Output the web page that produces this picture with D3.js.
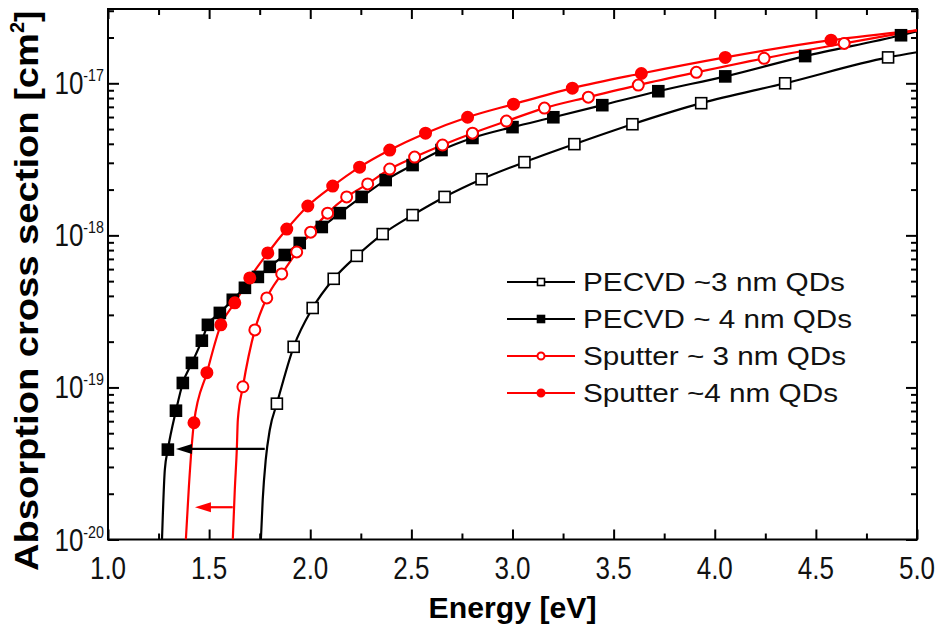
<!DOCTYPE html>
<html><head><meta charset="utf-8">
<script src="https://cdn.jsdelivr.net/npm/d3@7"></script>
<style>body{margin:0;background:#fff}svg{display:block}</style>
</head><body>
<svg id="chart" width="938" height="625"></svg>
<script>
// ---------- data ----------
const seriesNames = ["PECVD ~3 nm QDs", "PECVD ~ 4 nm QDs", "Sputter ~ 3 nm QDs", "Sputter ~4 nm QDs"];
const seriesColors = ["#000000", "#000000", "#ff0000", "#ff0000"];

// PECVD ~3 nm (open squares)
const pecvd3E = [1.835,1.918,2.012,2.116,2.230,2.358,2.506,2.664,2.847,3.059,3.306,3.593,3.933,4.348,4.857];
const pecvd3S = [7.82e-20,1.85e-19,3.33e-19,5.18e-19,7.33e-19,1.02e-18,1.36e-18,1.79e-18,2.34e-18,3.03e-18,3.98e-18,5.38e-18,7.40e-18,1.00e-17,1.48e-17];
const pecvd3LineE = [1.756,1.765,1.780,1.800,5.0];
const pecvd3LineS = [1.0e-20,1.83e-20,3.35e-20,5.27e-20,1.60e-17];

// PECVD ~4 nm (filled squares)
const pecvd4E = [1.296,1.336,1.370,1.415,1.464,1.494,1.553,1.617,1.677,1.741,1.800,1.874,1.948,2.057,2.146,2.254,2.373,2.506,2.649,2.802,3.000,3.202,3.444,3.721,4.052,4.447,4.921];
const pecvd4S = [3.90e-20,7.03e-20,1.07e-19,1.45e-19,2.03e-19,2.58e-19,3.09e-19,3.77e-19,4.52e-19,5.33e-19,6.21e-19,7.43e-19,8.91e-19,1.135e-18,1.40e-18,1.79e-18,2.31e-18,2.90e-18,3.64e-18,4.37e-18,5.15e-18,5.98e-18,7.18e-18,8.87e-18,1.11e-17,1.51e-17,2.07e-17];
const pecvd4LineE = [1.267,1.281,5.0];
const pecvd4LineS = [1.0e-20,2.88e-20,2.20e-17];

// Sputter ~3 nm (open circles)
const sput3E = [1.667,1.726,1.785,1.859,1.933,2.002,2.086,2.180,2.284,2.393,2.516,2.654,2.802,2.970,3.158,3.375,3.622,3.909,4.244,4.640];
const sput3S = [1.01e-19,2.39e-19,3.88e-19,5.58e-19,7.78e-19,1.05e-18,1.40e-18,1.79e-18,2.18e-18,2.73e-18,3.27e-18,3.93e-18,4.70e-18,5.64e-18,6.87e-18,8.11e-18,9.73e-18,1.18e-17,1.46e-17,1.83e-17];
const sput3LineE = [1.617,1.627,1.637,1.642,5.0];
const sput3LineS = [1.0e-20,2.13e-20,3.96e-20,6.14e-20,2.23e-17];

// Sputter ~4 nm (filled circles)
const sput4E = [1.425,1.489,1.558,1.627,1.701,1.790,1.884,1.988,2.111,2.244,2.393,2.570,2.778,3.005,3.296,3.637,4.052,4.575];
const sput4S = [5.86e-20,1.25e-19,2.58e-19,3.60e-19,5.25e-19,7.66e-19,1.10e-18,1.56e-18,2.11e-18,2.81e-18,3.64e-18,4.70e-18,5.98e-18,7.29e-18,9.29e-18,1.16e-17,1.48e-17,1.92e-17];
const sput4LineE = [1.385,1.400,5.0];
const sput4LineS = [1.0e-20,2.23e-20,2.23e-17];

// arrows (shift of absorption onset): [fromE, toE, sigma]
const arrowBlack = [1.775, 1.336, 3.94e-20];
const arrowRed = [1.617, 1.430, 1.63e-20];

// axes
const xDomain = [1.0, 5.0];
const yDomain = [1e-20, 3.08e-17];
const xTickValues = [1.0,1.5,2.0,2.5,3.0,3.5,4.0,4.5,5.0];
const xTickLabels = ["1.0","1.5","2.0","2.5","3.0","3.5","4.0","4.5","5.0"];
const xMinorValues = [1.25,1.75,2.25,2.75,3.25,3.75,4.25,4.75];
const yTickValues = [1e-20,1e-19,1e-18,1e-17];
const yTickExponents = ["-20","-19","-18","-17"];
const xTitle = "Energy [eV]";
const yTitle = "Absorption cross section [cm";
const yTitleSup = "2";

// ---------- drawing ----------
const svg = d3.select("#chart");
const M = {left:108, right:917, top:9, bottom:539.5};
const x = d3.scaleLinear().domain(xDomain).range([M.left, M.right]);
const y = d3.scaleLog().domain(yDomain).range([M.bottom, M.top]);

const yMinor = [];
for (let e = -20; e <= -17; e++) for (let k = 2; k <= 9; k++) { const v = k * Math.pow(10, e); if (v < yDomain[1]) yMinor.push(v); }

svg.append("defs").append("clipPath").attr("id","clip").append("rect")
  .attr("x",M.left).attr("y",M.top).attr("width",M.right-M.left).attr("height",M.bottom-M.top);

const axisG = svg.append("g").attr("class","axes");
function addAxis(axis, tr) {
  const g = axisG.append("g").attr("transform", tr).call(axis);
  g.select(".domain").remove();
  g.selectAll("line").attr("stroke","#000").attr("stroke-width",2);
  return g;
}
addAxis(d3.axisBottom(x).tickValues(xTickValues).tickSize(-10).tickFormat(""), `translate(0,${M.bottom})`);
addAxis(d3.axisBottom(x).tickValues(xMinorValues).tickSize(-6).tickFormat(""), `translate(0,${M.bottom})`);
addAxis(d3.axisTop(x).tickValues(xTickValues).tickSize(-10).tickFormat(""), `translate(0,${M.top})`);
addAxis(d3.axisTop(x).tickValues(xMinorValues).tickSize(-6).tickFormat(""), `translate(0,${M.top})`);
addAxis(d3.axisLeft(y).tickValues(yTickValues).tickSize(-11).tickFormat(""), `translate(${M.left},0)`);
addAxis(d3.axisLeft(y).tickValues(yMinor).tickSize(-6).tickFormat(""), `translate(${M.left},0)`);
addAxis(d3.axisRight(y).tickValues(yTickValues).tickSize(-11).tickFormat(""), `translate(${M.right},0)`);
addAxis(d3.axisRight(y).tickValues(yMinor).tickSize(-6).tickFormat(""), `translate(${M.right},0)`);

// frame
svg.append("rect").attr("x",M.left).attr("y",M.top).attr("width",M.right-M.left).attr("height",M.bottom-M.top)
  .attr("fill","none").attr("stroke","#000").attr("stroke-width",2);

const sans = "'Liberation Sans',Arial,sans-serif";
// x tick labels (condensed look)
svg.append("g").selectAll("text").data(xTickValues).join("text")
  .attr("transform", d => `translate(${x(d)},${M.bottom + 39}) scale(0.84,1)`)
  .attr("text-anchor","middle").attr("font-family", sans).attr("font-size",31).attr("fill","#111")
  .text((d,i) => xTickLabels[i]);
// y tick labels
const yl = svg.append("g").selectAll("text").data(yTickValues).join("text")
  .attr("transform", d => `translate(${M.left - 4},${y(d) + 11}) scale(0.84,1)`)
  .attr("text-anchor","end").attr("font-family", sans).attr("font-size",31).attr("fill","#111");
yl.append("tspan").text("10");
yl.append("tspan").attr("font-size",17).attr("dy",-13).text((d,i) => yTickExponents[i]);

// titles
svg.append("text").attr("x", (M.left+M.right)/2).attr("y", 618).attr("text-anchor","middle")
  .attr("font-family",sans).attr("font-weight","bold").attr("font-size",29)
  .attr("textLength",168).attr("lengthAdjust","spacingAndGlyphs")
  .text(xTitle);
const yt = svg.append("text").attr("transform", `translate(38,291) rotate(-90)`)
  .attr("text-anchor","middle").attr("font-family",sans).attr("font-weight","bold").attr("font-size",33);
yt.append("tspan").attr("textLength",538).attr("lengthAdjust","spacingAndGlyphs").text(yTitle);
yt.append("tspan").attr("font-size",20).attr("dy",-14).text(yTitleSup);
yt.append("tspan").attr("dy",14).text("]");

// series
const series = [
  {E:pecvd3E, S:pecvd3S, LE:pecvd3LineE, LS:pecvd3LineS, shape:"square", filled:false},
  {E:pecvd4E, S:pecvd4S, LE:pecvd4LineE, LS:pecvd4LineS, shape:"square", filled:true},
  {E:sput3E, S:sput3S, LE:sput3LineE, LS:sput3LineS, shape:"circle", filled:false},
  {E:sput4E, S:sput4S, LE:sput4LineE, LS:sput4LineS, shape:"circle", filled:true},
];
const line = d3.line().x(d => x(d[0])).y(d => y(d[1])).curve(d3.curveMonotoneX);
const plot = svg.append("g").attr("clip-path","url(#clip)");

function drawMarker(g, shape, filled, color, size) {
  if (shape === "square") {
    g.append("rect").attr("x",-size/2).attr("y",-size/2).attr("width",size).attr("height",size)
      .attr("fill", filled ? color : "#fff").attr("stroke", color).attr("stroke-width",1.6);
  } else {
    g.append("circle").attr("r", size/2)
      .attr("fill", filled ? color : "#fff").attr("stroke", color).attr("stroke-width",2);
  }
}

series.forEach((s, i) => {
  const pts = s.E.map((e,j) => [e, s.S[j]]).concat(s.LE.map((e,j) => [e, s.LS[j]])).sort((a,b) => a[0]-b[0]);
  plot.append("path").datum(pts).attr("d", line).attr("fill","none").attr("stroke", seriesColors[i]).attr("stroke-width",2.2);
});
series.forEach((s, i) => {
  s.E.forEach((e,j) => {
    const g = plot.append("g").attr("transform", `translate(${x(e)},${y(s.S[j])})`);
    drawMarker(g, s.shape, s.filled, seriesColors[i], 11);
  });
});

// arrows
function arrow(a, color) {
  const x1 = x(a[0]), x2 = x(a[1]), yy = y(a[2]);
  svg.append("line").attr("x1",x1).attr("x2",x2+14).attr("y1",yy).attr("y2",yy).attr("stroke",color).attr("stroke-width",2.2);
  svg.append("path").attr("d", `M${x2},${yy} L${x2+16},${yy-5} L${x2+16},${yy+5} Z`).attr("fill",color);
}
arrow(arrowBlack, "#000");
arrow(arrowRed, "#ff0000");

// legend
const lg = svg.append("g");
const legendY = [282, 319, 356, 393];
const legendTextW = [262, 269, 263, 255];
seriesNames.forEach((name, i) => {
  const g = lg.append("g").attr("transform", `translate(0,${legendY[i]})`);
  g.append("line").attr("x1",507).attr("x2",575).attr("y1",0).attr("y2",0).attr("stroke",seriesColors[i]).attr("stroke-width",2.2);
  const mg = g.append("g").attr("transform","translate(541,0)");
  drawMarker(mg, series[i].shape, series[i].filled, seriesColors[i], 7);
  g.append("text").attr("x",583).attr("y",9).attr("font-family",sans)
    .attr("font-size",26).attr("fill","#111")
    .attr("textLength",legendTextW[i]).attr("lengthAdjust","spacingAndGlyphs").text(name);
});
</script>
</body></html>
